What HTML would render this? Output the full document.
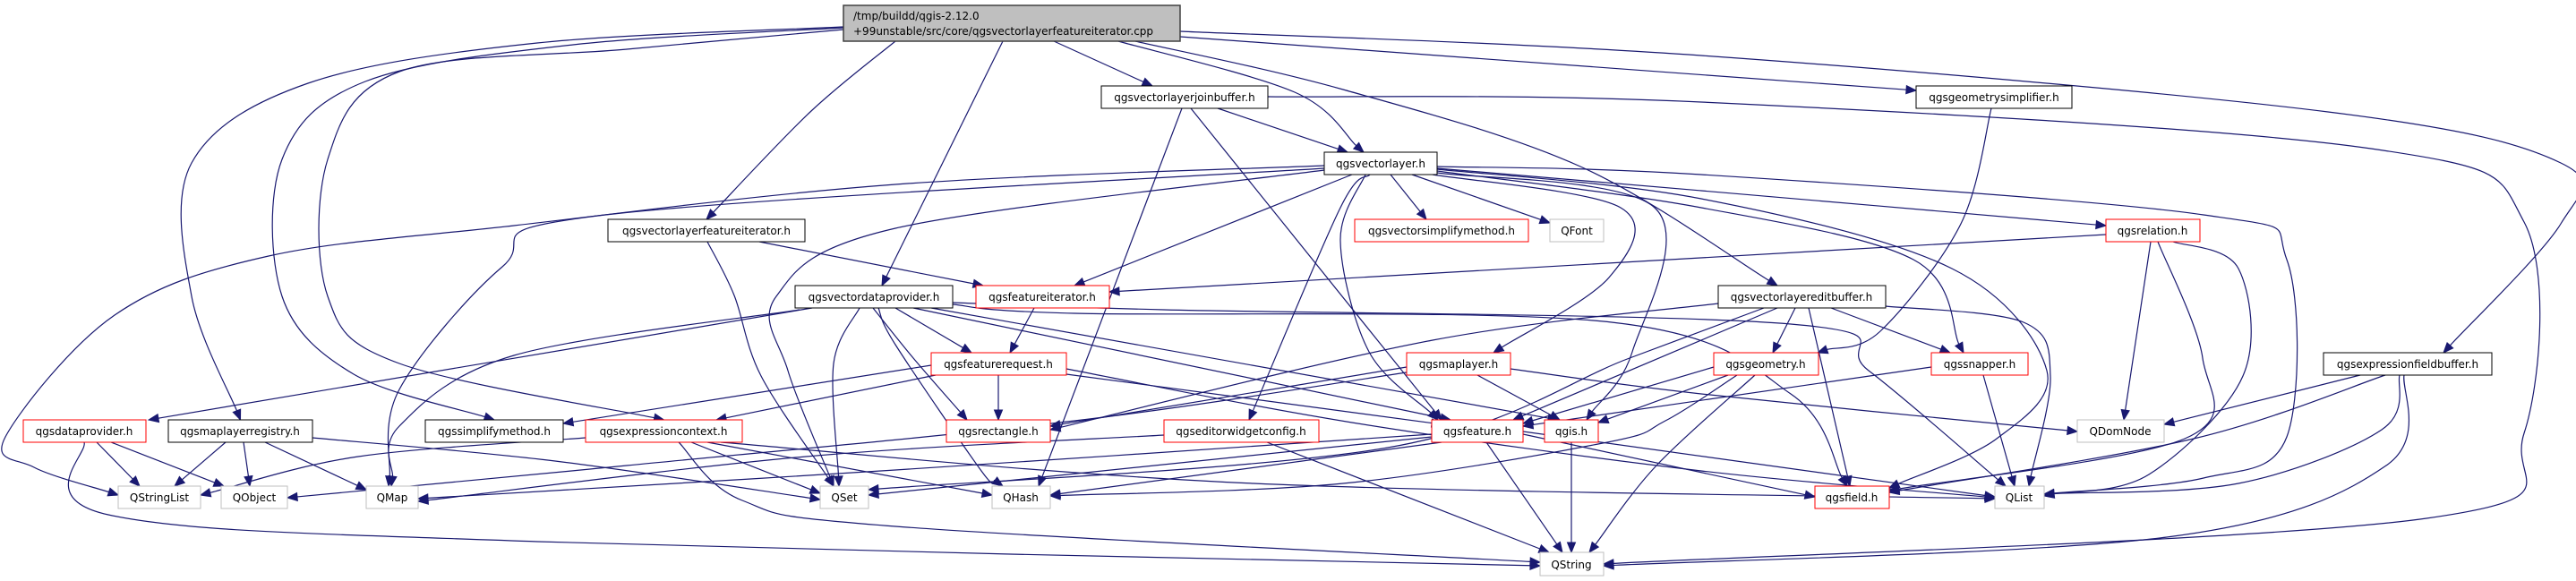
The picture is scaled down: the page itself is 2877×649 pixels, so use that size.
<!DOCTYPE html>
<html><head><meta charset="utf-8"><style>
html,body{margin:0;padding:0;background:#fff;}
svg{display:block;}
text{font-family:"DejaVu Sans","Liberation Sans",sans-serif;font-size:12px;fill:#000;}
</style></head><body>
<svg id="g" width="2877" height="649" viewBox="0 0 2877 649" xmlns="http://www.w3.org/2000/svg">
<g id="edges" fill="none" stroke="#191970" stroke-width="1.2"></g>
<g id="arrows" fill="#191970" stroke="#191970"></g>
<g id="nodes">
<rect x="942" y="6" width="376" height="40" fill="#bfbfbf" stroke="#404040" stroke-width="1.5"/>
<text x="953" y="22">/tmp/buildd/qgis-2.12.0</text>
<text x="953" y="39">+99unstable/src/core/qgsvectorlayerfeatureiterator.cpp</text>
<rect x="1230" y="96" width="186" height="25" fill="#fff" stroke="#000"/><text x="1323" y="113" text-anchor="middle">qgsvectorlayerjoinbuffer.h</text>
<rect x="1479" y="170" width="126" height="25" fill="#fff" stroke="#000"/><text x="1542" y="187" text-anchor="middle">qgsvectorlayer.h</text>
<rect x="2140" y="96" width="174" height="25" fill="#fff" stroke="#000"/><text x="2227" y="113" text-anchor="middle">qgsgeometrysimplifier.h</text>
<rect x="679" y="245" width="220" height="25" fill="#fff" stroke="#000"/><text x="789" y="262" text-anchor="middle">qgsvectorlayerfeatureiterator.h</text>
<rect x="1513" y="245" width="194" height="25" fill="#fff" stroke="#ff0000"/><text x="1610" y="262" text-anchor="middle">qgsvectorsimplifymethod.h</text>
<rect x="1731" y="245" width="60" height="25" fill="#fff" stroke="#bfbfbf"/><text x="1761" y="262" text-anchor="middle">QFont</text>
<rect x="2352" y="245" width="105" height="25" fill="#fff" stroke="#ff0000"/><text x="2404" y="262" text-anchor="middle">qgsrelation.h</text>
<rect x="888" y="319" width="176" height="25" fill="#fff" stroke="#000"/><text x="976" y="336" text-anchor="middle">qgsvectordataprovider.h</text>
<rect x="1090" y="319" width="149" height="25" fill="#fff" stroke="#ff0000"/><text x="1164" y="336" text-anchor="middle">qgsfeatureiterator.h</text>
<rect x="1919" y="319" width="187" height="25" fill="#fff" stroke="#000"/><text x="2012" y="336" text-anchor="middle">qgsvectorlayereditbuffer.h</text>
<rect x="1040" y="394" width="151" height="25" fill="#fff" stroke="#ff0000"/><text x="1115" y="411" text-anchor="middle">qgsfeaturerequest.h</text>
<rect x="1571" y="394" width="116" height="25" fill="#fff" stroke="#ff0000"/><text x="1629" y="411" text-anchor="middle">qgsmaplayer.h</text>
<rect x="1914" y="394" width="117" height="25" fill="#fff" stroke="#ff0000"/><text x="1972" y="411" text-anchor="middle">qgsgeometry.h</text>
<rect x="2157" y="394" width="108" height="25" fill="#fff" stroke="#ff0000"/><text x="2211" y="411" text-anchor="middle">qgssnapper.h</text>
<rect x="2595" y="394" width="188" height="25" fill="#fff" stroke="#000"/><text x="2689" y="411" text-anchor="middle">qgsexpressionfieldbuffer.h</text>
<rect x="26" y="469" width="137" height="25" fill="#fff" stroke="#ff0000"/><text x="94" y="486" text-anchor="middle">qgsdataprovider.h</text>
<rect x="188" y="469" width="161" height="25" fill="#fff" stroke="#000"/><text x="268" y="486" text-anchor="middle">qgsmaplayerregistry.h</text>
<rect x="475" y="469" width="154" height="25" fill="#fff" stroke="#000"/><text x="552" y="486" text-anchor="middle">qgssimplifymethod.h</text>
<rect x="654" y="469" width="175" height="25" fill="#fff" stroke="#ff0000"/><text x="741" y="486" text-anchor="middle">qgsexpressioncontext.h</text>
<rect x="1057" y="469" width="116" height="25" fill="#fff" stroke="#ff0000"/><text x="1115" y="486" text-anchor="middle">qgsrectangle.h</text>
<rect x="1300" y="469" width="173" height="25" fill="#fff" stroke="#ff0000"/><text x="1386" y="486" text-anchor="middle">qgseditorwidgetconfig.h</text>
<rect x="1599" y="469" width="102" height="25" fill="#fff" stroke="#ff0000"/><text x="1650" y="486" text-anchor="middle">qgsfeature.h</text>
<rect x="1725" y="469" width="60" height="25" fill="#fff" stroke="#ff0000"/><text x="1755" y="486" text-anchor="middle">qgis.h</text>
<rect x="2320" y="469" width="97" height="25" fill="#fff" stroke="#bfbfbf"/><text x="2368" y="486" text-anchor="middle">QDomNode</text>
<rect x="132" y="543" width="92" height="25" fill="#fff" stroke="#bfbfbf"/><text x="178" y="560" text-anchor="middle">QStringList</text>
<rect x="247" y="543" width="74" height="25" fill="#fff" stroke="#bfbfbf"/><text x="284" y="560" text-anchor="middle">QObject</text>
<rect x="409" y="543" width="58" height="25" fill="#fff" stroke="#bfbfbf"/><text x="438" y="560" text-anchor="middle">QMap</text>
<rect x="916" y="543" width="54" height="25" fill="#fff" stroke="#bfbfbf"/><text x="943" y="560" text-anchor="middle">QSet</text>
<rect x="1108" y="543" width="65" height="25" fill="#fff" stroke="#bfbfbf"/><text x="1140" y="560" text-anchor="middle">QHash</text>
<rect x="2027" y="543" width="83" height="25" fill="#fff" stroke="#ff0000"/><text x="2068" y="560" text-anchor="middle">qgsfield.h</text>
<rect x="2228" y="543" width="55" height="25" fill="#fff" stroke="#bfbfbf"/><text x="2255" y="560" text-anchor="middle">QList</text>
<rect x="1720" y="617" width="71" height="26" fill="#fff" stroke="#bfbfbf"/><text x="1755" y="635" text-anchor="middle">QString</text>
</g>
</svg>
<script>
var N={root:[942,6,376,40],jb:[1230,96,186,25],vl:[1479,170,126,25],gs:[2140,96,174,25],vfi:[679,245,220,25],vsm:[1513,245,194,25],QFont:[1731,245,60,25],rel:[2352,245,105,25],vdp:[888,319,176,25],fi:[1090,319,149,25],eb:[1919,319,187,25],fr:[1040,394,151,25],ml:[1571,394,116,25],geo:[1914,394,117,25],sn:[2157,394,108,25],efb:[2595,394,188,25],dp:[26,469,137,25],mlr:[188,469,161,25],sm:[475,469,154,25],ec:[654,469,175,25],rect:[1057,469,116,25],ewc:[1300,469,173,25],feat:[1599,469,102,25],qgis:[1725,469,60,25],QDomNode:[2320,469,97,25],QStringList:[132,543,92,25],QObject:[247,543,74,25],QMap:[409,543,58,25],QSet:[916,543,54,25],QHash:[1108,543,65,25],field:[2027,543,83,25],QList:[2228,543,55,25],QString:[1720,617,71,26]};
var E=[
['root','mlr',[[600,48],[344,93],[214,182],[214,331]],[942,30]],
['root','sm',[[640,50],[408,91],[315,178],[315,331],[395,418]],[942,31]],
['root','ec',[[700,55],[446,80],[366,178],[366,331],[446,406]],[942,33]],
['root','vfi',[[906,124]],[1000,46]],
['root','vdp',[],[1120,46],[985,319]],
['root','jb',[],[1177,46],[1287,96]],
['root','vl',[[1446,103]],[1249,46],[1523,170]],
['root','eb',[[1500,100],[1765,186]],[1268,46],[1985,319]],
['root','gs',[],[1318,41],[2140,101]],
['root','efb',[[1900,62],[2600,125],[2860,182],[2860,250]],[1318,35],[2729,394]],
['jb','QString',[[1900,114],[2648,166],[2819,248],[2819,484],[2710,579]],[1416,108],[1791,630]],
['jb','QHash',[],[1320,121],[1160,543]],
['jb','feat',[],[1330,121],[1610,469]],
['jb','vl',[],[1360,121],[1505,170]],
['vl','QStringList',[[1000,206],[574,252],[300,286],[128,352],[6,488],[38,522]],[1479,185],[132,553]],
['vl','QMap',[[676,240],[561,298],[446,435]],[1479,188],[434,543]],
['vl','QSet',[[1000,255],[867,331],[880,414]],[1479,190],[931,543]],
['vl','fi',[],[1510,195],[1200,319]],
['vl','vsm',[],[1553,195],[1593,245]],
['vl','QFont',[],[1577,195],[1731,249]],
['vl','ml',[[1810,232],[1797,310]],[1600,195],[1668,394]],
['vl','ewc',[[1497,232]],[1530,195],[1395,469]],
['vl','feat',[[1497,269],[1529,393]],[1525,195],[1606,469]],
['vl','qgis',[[1848,232],[1823,393]],[1605,193],[1772,469]],
['vl','rel',[[1900,213]],[1605,188],[2352,252]],
['vl','QList',[[1900,195],[2461,240],[2554,290],[2554,488],[2461,534]],[1605,186],[2283,552]],
['vl','sn',[[1900,232],[2137,290]],[1605,191],[2193,394]],
['vl','field',[[1900,222],[2180,300],[2286,414],[2230,490]],[1605,189],[2110,545]],
['rel','fi',[],[2352,262],[1239,326]],
['vdp','dp',[],[907,344],[166,469]],
['vdp','QMap',[[574,397],[446,476]],[893,346],[437,543]],
['vdp','QSet',[[931,406]],[960,344],[937,543]],
['vdp','QHash',[[1000,385],[1096,526]],[981,344],[1120,543]],
['vdp','rect',[[1020,400]],[975,344],[1080,469]],
['vdp','fr',[],[1000,344],[1085,394]],
['vdp','feat',[],[1020,344],[1620,469]],
['vdp','qgis',[],[1040,344],[1740,469]],
['vdp','field',[[1200,350],[1800,360],[2000,440]],[1064,340],[2063,543]],
['vdp','QList',[[1300,346],[2000,362],[2087,414]],[1064,338],[2240,543]],
['fr','sm',[],[1040,408],[629,473]],
['fr','ec',[],[1045,419],[800,469]],
['fr','rect',[],[1115,419],[1115,469]],
['fr','feat',[],[1191,418],[1610,474]],
['fr','QList',[[1510,472],[1900,526]],[1191,412],[2228,556]],
['fi','fr',[],[1155,344],[1128,394]],
['vfi','fi',[],[848,270],[1098,319]],
['vfi','QSet',[[820,330],[850,420]],[790,270],[931,543]],
['ec','QStringList',[[400,510]],[654,489],[224,553]],
['ec','QSet',[],[772,494],[916,551]],
['ec','QHash',[],[790,494],[1108,553]],
['ec','QString',[[829,559],[1000,588]],[758,494],[1720,628]],
['ec','QList',[[1400,540]],[805,494],[2228,557]],
['mlr','QStringList',[],[252,494],[195,543]],
['mlr','QObject',[],[272,494],[279,543]],
['mlr','QMap',[],[296,494],[409,547]],
['mlr','QSet',[[620,515]],[349,489],[916,558]],
['dp','QStringList',[],[108,494],[156,543]],
['dp','QObject',[],[124,494],[250,543]],
['dp','QString',[[121,575],[600,605]],[94,494],[1720,632]],
['feat','QMap',[[1000,525]],[1599,485],[467,557]],
['feat','QSet',[],[1599,488],[970,553]],
['feat','QHash',[],[1610,494],[1173,553]],
['feat','QString',[],[1660,494],[1745,617]],
['feat','field',[],[1701,485],[2027,555]],
['feat','QList',[],[1701,482],[2228,555]],
['qgis','QString',[],[1755,494],[1755,617]],
['ewc','QMap',[[900,510]],[1300,486],[467,560]],
['ewc','QString',[],[1415,494],[1730,617]],
['ml','rect',[],[1571,410],[1173,476]],
['ml','qgis',[],[1650,419],[1742,469]],
['ml','QObject',[[1200,470],[700,520]],[1571,416],[321,556]],
['ml','QDomNode',[[1900,440]],[1687,412],[2320,482]],
['geo','feat',[],[1914,410],[1701,473]],
['geo','qgis',[],[1930,419],[1785,472]],
['geo','QString',[[1850,520]],[1960,419],[1775,617]],
['geo','QHash',[[1860,470],[1790,495],[1500,540]],[1940,419],[1173,554]],
['sn','feat',[],[2157,410],[1701,476]],
['sn','QList',[],[2215,419],[2250,543]],
['rel','QDomNode',[],[2402,270],[2372,469]],
['rel','field',[[2460,400],[2440,490]],[2410,270],[2110,548]],
['rel','QList',[[2500,300],[2505,420],[2400,530]],[2427,270],[2283,554]],
['eb','geo',[],[2005,344],[1980,394]],
['eb','sn',[],[2045,344],[2178,394]],
['eb','field',[],[2020,344],[2066,543]],
['eb','QList',[[2260,360],[2290,420]],[2106,342],[2266,543]],
['eb','feat',[],[1985,344],[1690,469]],
['eb','rect',[[1600,380]],[1919,339],[1173,480]],
['eb','QSet',[[1820,400],[1550,500]],[1970,344],[970,547]],
['efb','QDomNode',[],[2636,419],[2417,474]],
['efb','field',[[2450,490]],[2664,419],[2110,550]],
['efb','QList',[[2660,480],[2500,540]],[2680,419],[2283,552]],
['efb','QString',[[2665,520],[2420,600]],[2685,419],[1791,632]],
['gs','geo',[[2190,250],[2100,370]],[2224,121],[2030,394]]
];
function cr(p){
  var d='M'+p[0][0]+','+p[0][1];
  if(p.length==2){return d+' L'+p[1][0]+','+p[1][1];}
  for(var i=0;i<p.length-1;i++){
    var p0=p[i-1]||p[i],p1=p[i],p2=p[i+1],p3=p[i+2]||p2;
    var c1=[p1[0]+(p2[0]-p0[0])/6,p1[1]+(p2[1]-p0[1])/6];
    var c2=[p2[0]-(p3[0]-p1[0])/6,p2[1]-(p3[1]-p1[1])/6];
    d+=' C'+c1[0].toFixed(1)+','+c1[1].toFixed(1)+' '+c2[0].toFixed(1)+','+c2[1].toFixed(1)+' '+p2[0]+','+p2[1];
  }
  return d;
}
var eg=document.getElementById('edges'),ag=document.getElementById('arrows'),ns='http://www.w3.org/2000/svg';
E.forEach(function(e){
  var s=N[e[0]],t=N[e[1]];
  var sp=e[3]||[s[0]+s[2]/2,s[1]+s[3]];
  var tp=e[4]||[t[0]+t[2]/2,t[1]];
  var pts=[sp].concat(e[2]);
  var prev=e[2].length?pts[pts.length-1]:sp;
  var dx=tp[0]-prev[0],dy=tp[1]-prev[1],L=Math.sqrt(dx*dx+dy*dy)||1;
  dx/=L;dy/=L;
  var AL=11,AW=4.5;
  var base=[tp[0]-dx*AL,tp[1]-dy*AL];
  pts.push(base);
  var p=document.createElementNS(ns,'path');p.setAttribute('d',cr(pts));eg.appendChild(p);
  var a=document.createElementNS(ns,'polygon');
  a.setAttribute('points',tp[0]+','+tp[1]+' '+(base[0]-dy*AW)+','+(base[1]+dx*AW)+' '+(base[0]+dy*AW)+','+(base[1]-dx*AW));
  ag.appendChild(a);
});
</script>
</body></html>
